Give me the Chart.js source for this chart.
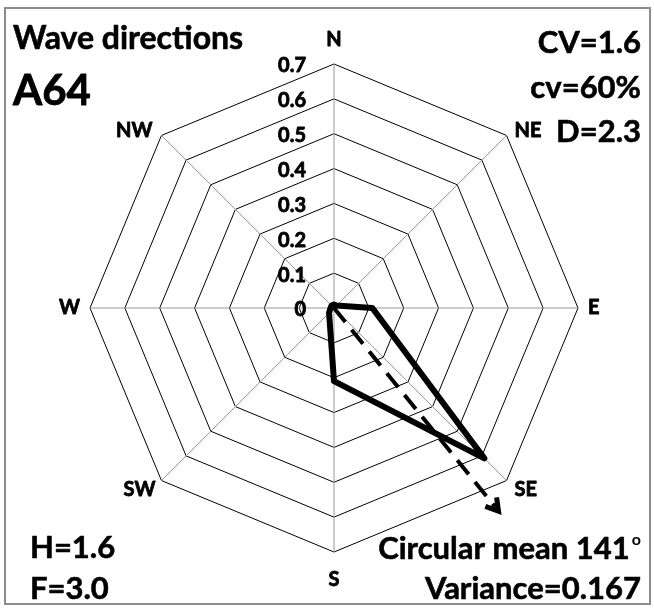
<!DOCTYPE html>
<html>
<head>
<meta charset="utf-8">
<script src="https://cdn.jsdelivr.net/npm/chart.js@4.4.0/dist/chart.umd.min.js"></script>
<style>
  body { margin: 0; background: #fff; }
  canvas { display: block; }
</style>
</head>
<body>
<canvas id="myChart" width="654" height="608"></canvas>
<script>
// directions and wave direction frequencies
const directions = ["N", "NE", "E", "SE", "S", "SW", "W", "NW"];
const frequencies = [0.01, 0.01, 0.11, 0.61, 0.21, 0.02, 0.01, 0.01];
const tickValues = [0, 0.1, 0.2, 0.3, 0.4, 0.5, 0.6, 0.7];

// circular mean arrow (degrees from north, length in scale units)
const meanAngle = [141];
const meanLength = [0.75];

const titleLines = ["Wave directions", "A64"];
const rightStats = ["CV=1.6", "cv=60%", "D=2.3"];
const leftStats = ["H=1.6", "F=3.0"];
const bottomStats = ["Circular mean 141", "Variance=0.167"];

const fontFamily = "Lato, 'Open Sans', sans-serif";

// bold text with a thin outline so it looks as heavy as the original
function heavyText(ctx, text, x, y, w) {
  ctx.lineWidth = w;
  ctx.lineJoin = "round";
  ctx.strokeText(text, x, y);
  ctx.fillText(text, x, y);
}

const extrasPlugin = {
  id: "extras",
  afterDraw(chart) {
    const ctx = chart.ctx;
    const scale = chart.scales.r;
    const cx = scale.xCenter;
    const cy = scale.yCenter;

    ctx.save();

    // frame
    ctx.strokeStyle = "#8c8c8c";
    ctx.lineWidth = 2;
    ctx.strokeRect(5, 8, 645, 596);

    // tick labels
    ctx.fillStyle = "#000";
    ctx.strokeStyle = "#000";
    ctx.font = "bold 20px " + fontFamily;
    ctx.textAlign = "right";
    ctx.textBaseline = "middle";
    tickValues.forEach((v) => {
      const d = scale.getDistanceFromCenterForValue(v);
      heavyText(ctx, String(v), cx - 28, cy - d + 2, 0.8);
    });

    // point labels
    const outer = scale.getDistanceFromCenterForValue(scale.max);
    directions.forEach((label, i) => {
      const p = scale.getPointPosition(i, outer);
      let x = p.x;
      let y = p.y;
      if (label === "N") { ctx.textAlign = "center"; y -= 24; }
      else if (label === "S") { ctx.textAlign = "center"; y += 28; }
      else if (label === "E") { ctx.textAlign = "left"; x += 10; }
      else if (label === "W") { ctx.textAlign = "right"; x -= 10; }
      else if (label === "NE") { ctx.textAlign = "left"; x += 8; y -= 5; }
      else if (label === "SE") { ctx.textAlign = "left"; x += 8; y += 9; }
      else if (label === "NW") { ctx.textAlign = "right"; x -= 9; y -= 5; }
      else if (label === "SW") { ctx.textAlign = "right"; x -= 6; y += 9; }
      heavyText(ctx, label, x, y, 0.8);
    });

    // dashed circular mean arrow
    const a = (meanAngle[0] - 90) * Math.PI / 180;
    const len = scale.getDistanceFromCenterForValue(meanLength[0]);
    const tx = cx + Math.cos(a) * len;
    const ty = cy + Math.sin(a) * len;
    ctx.lineWidth = 4;
    ctx.setLineDash([18, 10]);
    ctx.beginPath();
    ctx.moveTo(cx, cy);
    ctx.lineTo(tx - Math.cos(a) * 4, ty - Math.sin(a) * 4);
    ctx.stroke();
    ctx.setLineDash([]);
    ctx.lineWidth = 5;
    ctx.lineCap = "butt";
    ctx.lineJoin = "miter";
    const head = 14;
    ctx.beginPath();
    ctx.moveTo(tx + Math.cos(a + 2.6) * head, ty + Math.sin(a + 2.6) * head);
    ctx.lineTo(tx, ty);
    ctx.lineTo(tx + Math.cos(a - 2.6) * head, ty + Math.sin(a - 2.6) * head);
    ctx.stroke();

    // texts
    ctx.textBaseline = "middle";
    ctx.textAlign = "left";
    ctx.font = "bold 32px " + fontFamily;
    heavyText(ctx, titleLines[0], 13, 39, 0.6);
    ctx.font = "bold 42px " + fontFamily;
    heavyText(ctx, titleLines[1], 13, 91, 0.8);

    ctx.font = "bold 31px " + fontFamily;
    ctx.textAlign = "right";
    heavyText(ctx, rightStats[0], 641, 43, 0.6);
    heavyText(ctx, rightStats[1], 641, 88, 0.6);
    heavyText(ctx, rightStats[2], 641, 132, 0.6);

    ctx.textAlign = "left";
    heavyText(ctx, leftStats[0], 30, 548, 0.6);
    heavyText(ctx, leftStats[1], 30, 589, 0.6);

    ctx.textAlign = "right";
    ctx.font = "bold 16px " + fontFamily;
    ctx.fillText("o", 641, 540);
    const supW = ctx.measureText("o").width + 2;
    ctx.font = "bold 31px " + fontFamily;
    heavyText(ctx, bottomStats[0], 641 - supW, 549, 0.6);
    heavyText(ctx, bottomStats[1], 641, 589, 0.6);

    ctx.restore();
  },
};

const ctx = document.getElementById("myChart").getContext("2d");

const myChart = new Chart(ctx, {
  type: "radar",
  data: {
    labels: directions,
    datasets: [
      {
        label: "Wave directions",
        data: frequencies,
        borderColor: "#000",
        backgroundColor: "rgba(0,0,0,0)",
        borderWidth: 6,
        borderJoinStyle: "round",
        fill: false,
        pointRadius: 0,
        pointHoverRadius: 0,
      },
    ],
  },
  options: {
    responsive: false,
    animation: false,
    layout: {
      padding: { left: 90, right: 76, top: 64, bottom: 56 },
    },
    plugins: {
      legend: { display: false },
      tooltip: { enabled: false },
    },
    scales: {
      r: {
        min: 0,
        max: 0.7,
        ticks: { stepSize: 0.1, display: false },
        grid: { color: "#000", lineWidth: 1 },
        angleLines: { color: "#999", lineWidth: 1 },
        pointLabels: { display: false },
      },
    },
  },
  plugins: [extrasPlugin],
});
</script>
</body>
</html>
